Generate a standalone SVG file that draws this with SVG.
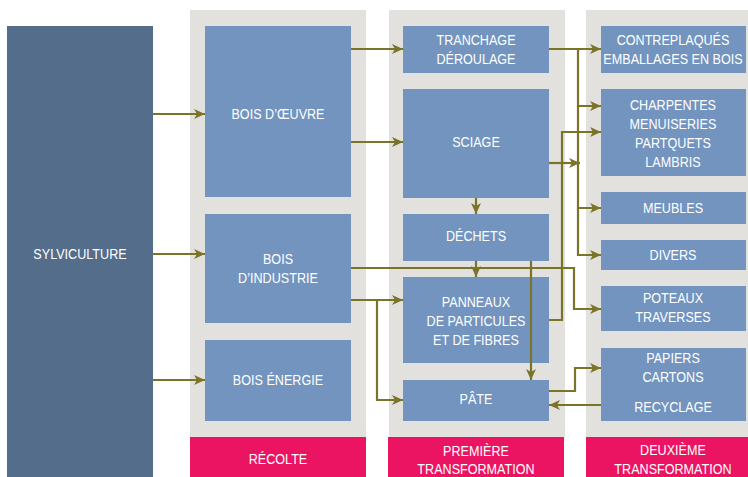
<svg xmlns="http://www.w3.org/2000/svg" width="748" height="477" viewBox="0 0 748 477">
<style>
.col{fill:#e2e1dd}
.box{fill:#7294bf}
.red{fill:#eb1462}
.t{font-family:"Liberation Sans",Arial,sans-serif;font-size:15px;fill:#ffffff;text-anchor:middle;transform-box:fill-box;transform-origin:center;transform:scaleX(0.84)}
.c{fill:none;stroke:#7a7428;stroke-width:2.2}
</style>
<defs>
<marker id="ah" markerUnits="userSpaceOnUse" markerWidth="12" markerHeight="12" viewBox="0 0 12 12" refX="11" refY="6" orient="auto">
<path d="M0,1 L11,6 L0,11 L3,6 Z" fill="#7a7428"/>
</marker>
</defs>
<rect class="col" x="190" y="10" width="176" height="427"/>
<rect class="col" x="389" y="10" width="176" height="427"/>
<rect class="col" x="586" y="10" width="162" height="427"/>
<g id="sylviculture"><rect x="7" y="26" width="146" height="451" fill="#536d8b"/><text class="t" x="80" y="259">SYLVICULTURE</text></g>
<g id="recolte"><rect class="red" x="190" y="437" width="176" height="40"/><text class="t" x="278" y="464">RÉCOLTE</text></g>
<g id="premiere"><rect class="red" x="388" y="437" width="176" height="40"/><text class="t" x="476" y="456">PREMIÈRE</text><text class="t" x="476" y="474">TRANSFORMATION</text></g>
<g id="deuxieme"><rect class="red" x="586" y="437" width="162" height="40"/><text class="t" x="673" y="455">DEUXIÈME</text><text class="t" x="673" y="474">TRANSFORMATION</text></g>
<g id="bois-oeuvre"><rect class="box" x="205" y="26" width="146" height="171"/><text class="t" x="278" y="119">BOIS D’ŒUVRE</text></g>
<g id="bois-industrie"><rect class="box" x="205" y="214" width="146" height="109"/><text class="t" x="278" y="264">BOIS</text><text class="t" x="278" y="283">D’INDUSTRIE</text></g>
<g id="bois-energie"><rect class="box" x="205" y="340" width="146" height="81"/><text class="t" x="278" y="385">BOIS ÉNERGIE</text></g>
<g id="tranchage"><rect class="box" x="403" y="26" width="146" height="47"/><text class="t" x="476" y="45">TRANCHAGE</text><text class="t" x="476" y="64">DÉROULAGE</text></g>
<g id="sciage"><rect class="box" x="403" y="89" width="146" height="109"/><text class="t" x="476" y="147">SCIAGE</text></g>
<g id="dechets"><rect class="box" x="403" y="214" width="146" height="47"/><text class="t" x="476" y="241">DÉCHETS</text></g>
<g id="panneaux"><rect class="box" x="403" y="277" width="146" height="86"/><text class="t" x="476" y="307">PANNEAUX</text><text class="t" x="476" y="326">DE PARTICULES</text><text class="t" x="476" y="345">ET DE FIBRES</text></g>
<g id="pate"><rect class="box" x="403" y="380" width="146" height="41"/><text class="t" x="476" y="404">PÂTE</text></g>
<g id="contreplaques"><rect class="box" x="601" y="26" width="145" height="47"/><text class="t" x="673" y="45">CONTREPLAQUÉS</text><text class="t" x="673" y="64">EMBALLAGES EN BOIS</text></g>
<g id="charpentes"><rect class="box" x="601" y="89" width="145" height="87"/><text class="t" x="673" y="110">CHARPENTES</text><text class="t" x="673" y="129">MENUISERIES</text><text class="t" x="673" y="148">PARTQUETS</text><text class="t" x="673" y="167">LAMBRIS</text></g>
<g id="meubles"><rect class="box" x="601" y="192" width="145" height="32"/><text class="t" x="673" y="213">MEUBLES</text></g>
<g id="divers"><rect class="box" x="601" y="240" width="145" height="30"/><text class="t" x="673" y="260">DIVERS</text></g>
<g id="poteaux"><rect class="box" x="601" y="286" width="145" height="45"/><text class="t" x="673" y="303">POTEAUX</text><text class="t" x="673" y="322">TRAVERSES</text></g>
<g id="papiers"><rect class="box" x="601" y="348" width="145" height="73"/><text class="t" x="673" y="363">PAPIERS</text><text class="t" x="673" y="382">CARTONS</text><text class="t" x="673" y="412">RECYCLAGE</text></g>
<g id="connectors">
<path class="c" d="M153,114 H205" marker-end="url(#ah)"/>
<path class="c" d="M153,254 H205" marker-end="url(#ah)"/>
<path class="c" d="M153,380 H205" marker-end="url(#ah)"/>
<path class="c" d="M351,49 H403" marker-end="url(#ah)"/>
<path class="c" d="M351,142 H403" marker-end="url(#ah)"/>
<path class="c" d="M549,49 H601" marker-end="url(#ah)"/>
<path class="c" d="M578,49 V106 H601" marker-end="url(#ah)"/>
<path class="c" d="M578,106 V208 H601" marker-end="url(#ah)"/>
<path class="c" d="M578,208 V255 H601" marker-end="url(#ah)"/>
<path class="c" d="M549,163 H580" marker-end="url(#ah)"/>
<path class="c" d="M549,320 H562 V132 H601" marker-end="url(#ah)"/>
<path class="c" d="M351,268 H574 V309 H601" marker-end="url(#ah)"/>
<path class="c" d="M476,198 V214" marker-end="url(#ah)"/>
<path class="c" d="M476,261 V277" marker-end="url(#ah)"/>
<path class="c" d="M531,261 V380" marker-end="url(#ah)"/>
<path class="c" d="M351,300 H403" marker-end="url(#ah)"/>
<path class="c" d="M377,300 V400 H403" marker-end="url(#ah)"/>
<path class="c" d="M549,391 H575 V368 H601" marker-end="url(#ah)"/>
<path class="c" d="M601,405 H549" marker-end="url(#ah)"/>
</g>
</svg>
